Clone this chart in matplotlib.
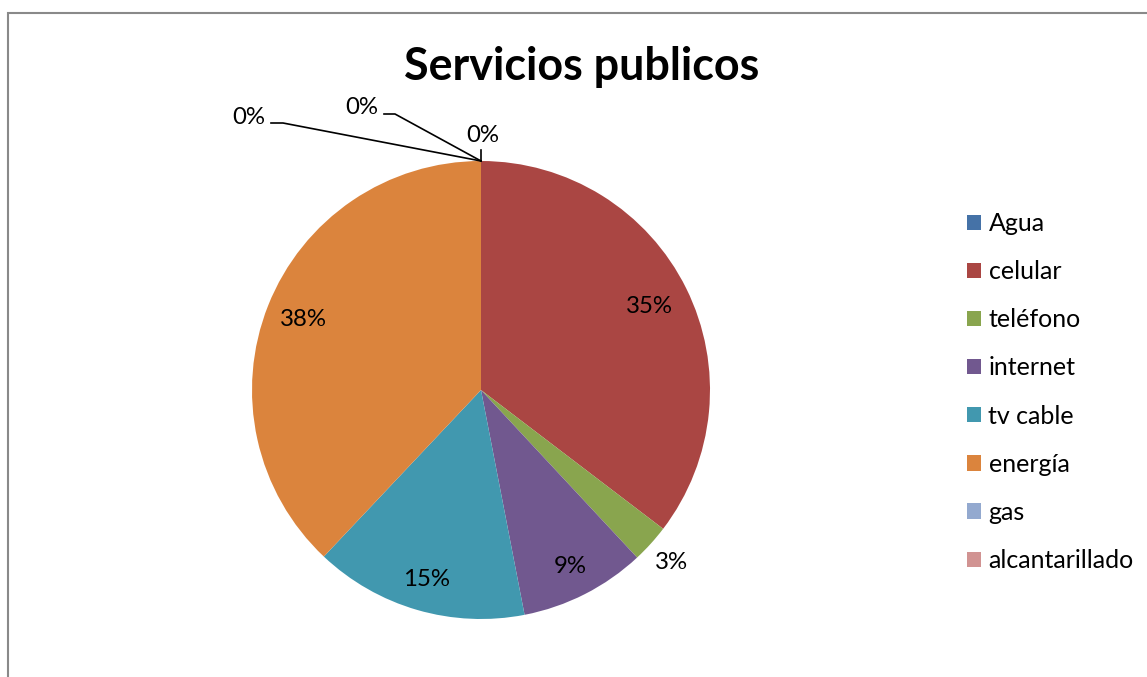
import matplotlib
matplotlib.use("Agg")
import matplotlib.pyplot as plt
from matplotlib.patches import Patch, Rectangle
import numpy as np

plt.rcParams['font.family'] = ['Lato', 'DejaVu Sans']

categories = ["Agua", "celular", "teléfono", "internet", "tv cable", "energía", "gas", "alcantarillado"]
values = [0.0, 35.4, 2.7, 8.9, 15.1, 38.0, 0.0, 0.0]
pct_labels = ["0%", "35%", "3%", "9%", "15%", "38%", "0%", "0%"]
colors = ["#4572A7", "#AA4643", "#89A54E", "#71588F", "#4198AF", "#DB843D", "#93A9CF", "#D19392"]

W, H = 1147, 677
fig = plt.figure(figsize=(W / 100, H / 100), dpi=100)
fig.patch.set_facecolor("white")

# chart border
fig.patches.append(Rectangle((8 / W, -0.05), 1.2, 1 - 13 / H + 0.05, transform=fig.transFigure,
                             fill=False, edgecolor="#898989", linewidth=1.5))

R = 229.0
cx, cy = 481.0, 390.0
half = 280.0
ax = fig.add_axes([(cx - half) / W, (H - cy - half) / H, 2 * half / W, 2 * half / H])
wedges, _ = ax.pie(values, colors=colors, startangle=90, counterclock=False, radius=1,
                   wedgeprops=dict(linewidth=0))
lim = half / R
ax.set_xlim(-lim, lim)
ax.set_ylim(-lim, lim)
ax.set_aspect('equal')
ax.axis('off')

# label radius per slice (layout)
label_r = [None, 0.82, 1.12, 0.863, 0.861, 0.835, None, None]
fs_lab = 17.3
for i, w in enumerate(wedges):
    if label_r[i] is None:
        continue
    mid = np.deg2rad((w.theta1 + w.theta2) / 2)
    ax.text(label_r[i] * np.cos(mid), label_r[i] * np.sin(mid), pct_labels[i],
            ha='center', va='center', fontsize=fs_lab, color='black')

def px(x, y):
    return ((x - cx) / R, (cy - y) / R)

# zero slices: labels with leader lines
tip = px(481, 161)
# Agua
ax.text(*px(483, 135), pct_labels[0], ha='center', va='center', fontsize=fs_lab)
ax.plot([tip[0], tip[0]], [tip[1], px(481, 150)[1]], color='black', lw=1.2, clip_on=False)
# gas
ax.text(*px(362, 108), pct_labels[6], ha='center', va='center', fontsize=fs_lab)
p1, p2 = px(384, 114), px(395, 114)
ax.plot([p1[0], p2[0], tip[0]], [p1[1], p2[1], tip[1]], color='black', lw=1.2, clip_on=False)
# alcantarillado
ax.text(*px(249, 117), pct_labels[7], ha='center', va='center', fontsize=fs_lab)
p1, p2 = px(271, 123), px(283, 123)
ax.plot([p1[0], p2[0], tip[0]], [p1[1], p2[1], tip[1]], color='black', lw=1.2, clip_on=False)

fig.text(582 / W, 1 - 67 / H, "Servicios publicos", ha='center', va='center',
         fontsize=32.3, fontweight='bold')

handles = [Patch(facecolor=c, edgecolor='none') for c in colors]
leg = fig.legend(handles, categories, loc='upper left', bbox_to_anchor=(967 / W, 1 - 212 / H),
                 frameon=False, fontsize=18, handlelength=0.56, handleheight=0.56,
                 handletextpad=0.3, labelspacing=1.006, borderpad=0, borderaxespad=0)

fig.savefig("out.png", dpi=100, facecolor="white")
